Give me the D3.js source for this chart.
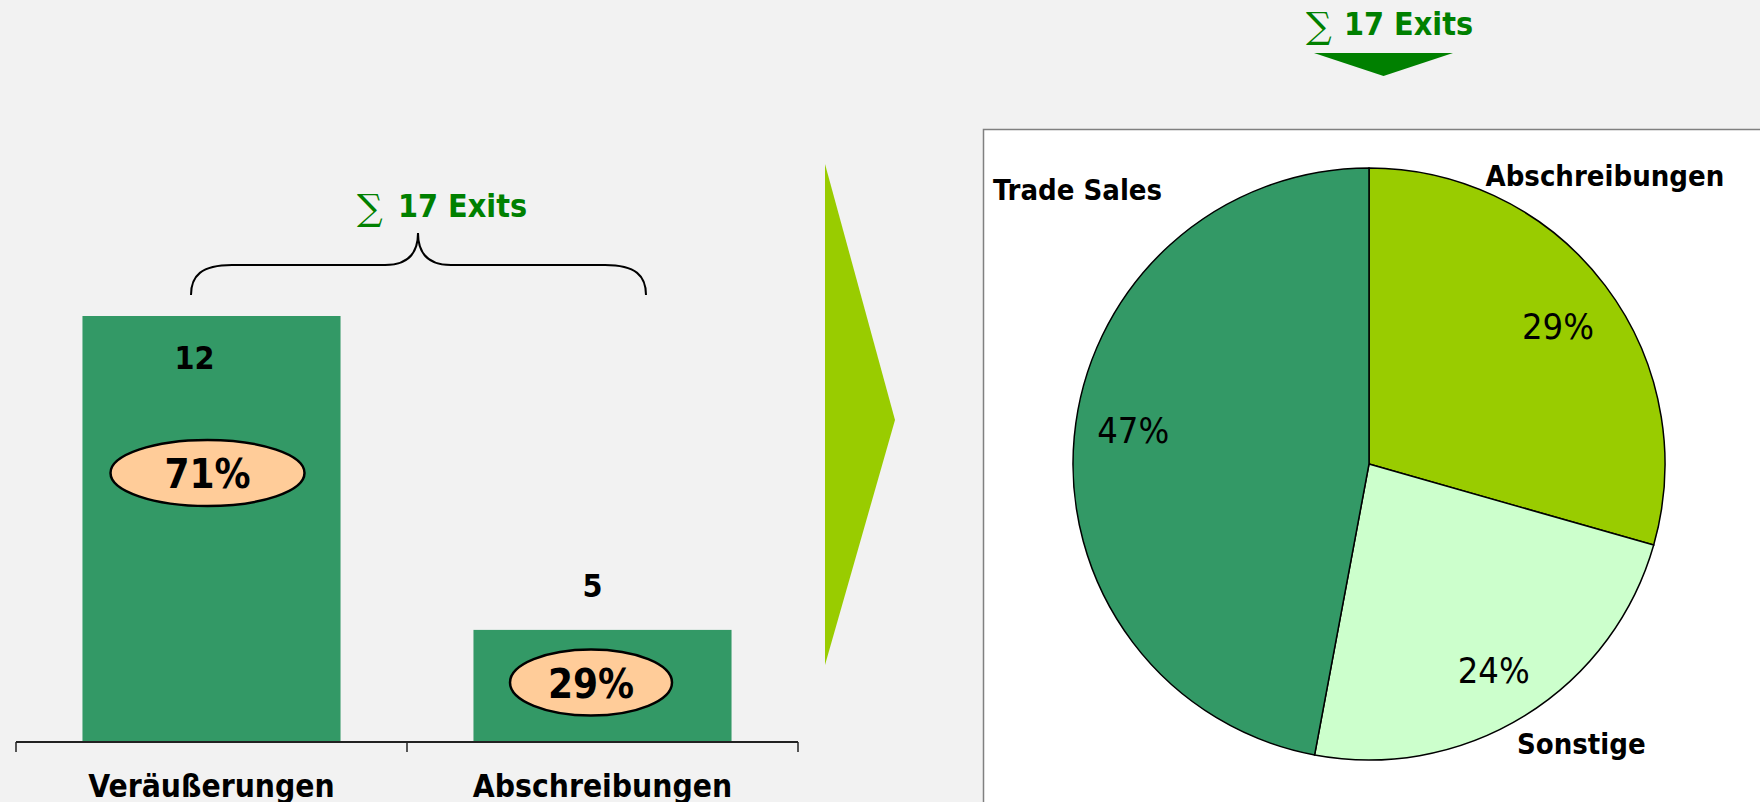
<!DOCTYPE html>
<html>
<head>
<meta charset="utf-8">
<script src="https://cdn.jsdelivr.net/npm/d3@7"></script>
<style>
  body { margin: 0; background: #f2f2f2; }
  svg { display: block; }
</style>
</head>
<body>
<script>
// data
const categories = ["Veräußerungen", "Abschreibungen"];
const exitCounts = [12, 5];
const pieLabels = ["Abschreibungen", "Sonstige", "Trade Sales"];
const pieValues = [5, 4, 8];
const yDomain = [2.5, 12];

const w = 1760;
const h = 802;
const boldFont = "'DejaVu Sans Condensed', 'DejaVu Sans', sans-serif";
const green = "#339966";
const total = d3.sum(exitCounts);

const svg = d3.select("body")
              .append("svg")
              .attr("width", w)
              .attr("height", h);

svg.append("rect")
   .attr("width", w)
   .attr("height", h)
   .attr("fill", "#f2f2f2");

// Bar chart

const axisY = 742;
const xScale = d3.scaleBand()
                 .domain(categories)
                 .range([16, 798])
                 .paddingInner(0.34)
                 .paddingOuter(0.17);
const yScale = d3.scaleLinear()
                 .domain(yDomain)
                 .range([axisY, 316]);

const bars = categories.map((c, i) => ({cat: c, val: exitCounts[i]}));

svg.append("g")
   .selectAll("rect")
   .data(bars)
   .enter()
   .append("rect")
   .attr("x", d => xScale(d.cat))
   .attr("y", d => yScale(d.val))
   .attr("width", xScale.bandwidth())
   .attr("height", d => axisY - yScale(d.val))
   .attr("fill", green);

// value labels: inside tall bars, above short ones
svg.append("g")
   .selectAll("text")
   .data(bars)
   .enter()
   .append("text")
   .attr("x", d => xScale(d.cat) + xScale.bandwidth() / 2 - ((axisY - yScale(d.val)) > 150 ? 17 : 10))
   .attr("y", d => (axisY - yScale(d.val)) > 150 ? yScale(d.val) + 53 : yScale(d.val) - 33)
   .attr("text-anchor", "middle")
   .attr("font-family", boldFont)
   .attr("font-stretch", "condensed")
   .attr("font-weight", "bold")
   .attr("font-size", 32)
   .text(d => d.val);

// axis
const xAxis = d3.axisBottom(xScale).tickSize(0).tickPadding(33);
svg.append("g")
   .attr("transform", "translate(0," + axisY + ")")
   .call(xAxis)
   .attr("font-family", boldFont)
   .attr("font-size", 31.5)
   .attr("font-weight", "bold")
   .attr("font-stretch", "condensed")
   .call(g => g.select(".domain").remove());

const edges = categories.map(c => xScale(c) - xScale.step() * xScale.paddingOuter())
                        .concat([xScale.range()[1]]);
svg.append("path")
   .attr("d", "M" + edges[0] + "," + axisY + "H" + edges[edges.length - 1])
   .attr("stroke", "#222")
   .attr("stroke-width", 2)
   .attr("fill", "none");
svg.append("g")
   .selectAll("line")
   .data(edges)
   .enter()
   .append("line")
   .attr("x1", d => d).attr("x2", d => d)
   .attr("y1", axisY).attr("y2", axisY + 10)
   .attr("stroke", "#222")
   .attr("stroke-width", 1.5);

// percentage callouts
const callouts = [{cx: 207.5, cy: 473, rx: 97}, {cx: 591, cy: 682.5, rx: 81}];
callouts.forEach((c, i) => {
  svg.append("ellipse")
     .attr("cx", c.cx).attr("cy", c.cy)
     .attr("rx", c.rx).attr("ry", 33)
     .attr("fill", "#ffcc99")
     .attr("stroke", "#000")
     .attr("stroke-width", 2.5);
  svg.append("text")
     .attr("x", c.cx).attr("y", c.cy + 15)
     .attr("text-anchor", "middle")
     .attr("font-family", boldFont)
     .attr("font-stretch", "condensed")
     .attr("font-weight", "bold")
     .attr("font-size", 40)
     .text(Math.round(exitCounts[i] / total * 100) + "%");
});

// brace
svg.append("path")
   .attr("d", "M191,295 C191,276 201,265 232,265 L385,265 C406,265 418,255 418,233" +
              " C418,255 430,265 451,265 L605,265 C636,265 646,276 646,295")
   .attr("fill", "none")
   .attr("stroke", "#000")
   .attr("stroke-width", 2);

// sum titles
function sumTitle(xSigma, xText, base) {
  svg.append("text")
     .attr("x", xSigma).attr("y", base + 3)
     .attr("font-family", "'DejaVu Serif', serif")
     .attr("font-size", 36)
     .attr("fill", "#008000")
     .text("\u2211");
  svg.append("text")
     .attr("x", xText).attr("y", base)
     .attr("font-family", boldFont)
     .attr("font-stretch", "condensed")
     .attr("font-weight", "bold")
     .attr("font-size", 32)
     .attr("fill", "#008000")
     .text(total + " Exits");
}
sumTitle(357, 398, 217);
sumTitle(1306, 1344, 35);

svg.append("polygon")
   .attr("points", "1314,53 1453,53 1383.5,76")
   .attr("fill", "#008000");

// big arrow
svg.append("polygon")
   .attr("points", "825,164 895,420 825,665")
   .attr("fill", "#99cc00");

// Pie chart

svg.append("rect")
   .attr("x", 983.5).attr("y", 129.5)
   .attr("width", 820).attr("height", 720)
   .attr("fill", "#fff")
   .attr("stroke", "#808080")
   .attr("stroke-width", 1.5);

const pieColors = d3.scaleOrdinal()
                    .domain(pieLabels)
                    .range(["#99cc00", "#ccffcc", green]);
const radius = 296;
const pie = d3.pie().sort(null).value(d => d.val);
const arc = d3.arc().innerRadius(0).outerRadius(radius);
const labelArc = d3.arc().innerRadius(radius * 0.8).outerRadius(radius * 0.8);
const pieData = pie(pieLabels.map((l, i) => ({label: l, val: pieValues[i]})));
const pieSum = d3.sum(pieValues);

const pg = svg.append("g").attr("transform", "translate(1369,464)");
pg.selectAll("path")
  .data(pieData)
  .enter()
  .append("path")
  .attr("d", arc)
  .attr("fill", d => pieColors(d.data.label))
  .attr("stroke", "#000")
  .attr("stroke-width", 1.5);

pg.selectAll("text")
  .data(pieData)
  .enter()
  .append("text")
  .attr("transform", d => {
    const c = labelArc.centroid(d);
    return "translate(" + c[0] + "," + (c[1] + (c[1] < 0 && c[0] < 0 ? -12 : 5)) + ")";
  })
  .attr("dy", "0.36em")
  .attr("text-anchor", "middle")
  .attr("font-family", boldFont)
  .attr("font-stretch", "condensed")
  .attr("font-size", 36)
  .text(d => Math.round(d.data.val / pieSum * 100) + "%");

// slice names
const nameSpots = {"Trade Sales": [993, 200], "Abschreibungen": [1485.5, 186], "Sonstige": [1517, 754]};
svg.append("g")
   .selectAll("text")
   .data(pieLabels)
   .enter()
   .append("text")
   .attr("x", d => nameSpots[d][0])
   .attr("y", d => nameSpots[d][1])
   .attr("font-family", boldFont)
   .attr("font-stretch", "condensed")
   .attr("font-weight", "bold")
   .attr("font-size", 29)
   .text(d => d);
</script>
</body>
</html>
